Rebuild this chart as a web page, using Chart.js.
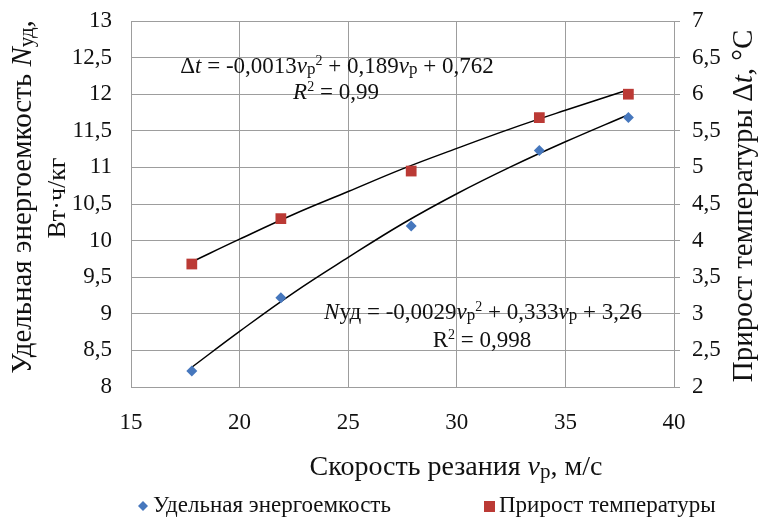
<!DOCTYPE html>
<html>
<head>
<meta charset="utf-8">
<script src="https://cdn.jsdelivr.net/npm/chart.js@4"></script>
<style>
  html, body { margin: 0; padding: 0; background: #fff; }
  canvas { display: block; }
</style>
</head>
<body>
<canvas id="chart" width="764" height="517"></canvas>
<script>
const SPEED = [17.8, 21.9, 27.9, 33.8, 37.9]
const ENERGY = [8.22, 9.22, 10.2, 11.23, 11.68]
const TEMP_RISE = [3.68, 4.3, 4.95, 5.68, 6.0]
// trend curves as they appear on the picture
const TREND_X = [17.8, 20, 22.5, 25, 27.5, 30, 32.5, 35, 37.9]
const ENERGY_TREND = [8.27, 8.76, 9.29, 9.77, 10.23, 10.64, 11.01, 11.35, 11.72]
const TEMP_TREND = [3.71, 4.02, 4.36, 4.67, 4.98, 5.26, 5.53, 5.78, 6.06]
const X_TICKS = [15, 20, 25, 30, 35, 40]

const FONT = '"Liberation Serif", "Times New Roman", serif'
const TEXT = '#111'
const GRID = '#9d9d9d'
const BLUE = '#4677bd'
const RED = '#bb3a35'

function pairs(xs, ys) {
  return xs.map((x, i) => ({ x, y: ys[i] }))
}

function comma(value) {
  return String(value).replace('.', ',')
}

// draw a line made of runs with different styles, centred on cx
function drawRuns(ctx, runs, cx, cy) {
  const parts = runs.map((r) => {
    const size = r.size || 23
    const font = `${r.italic ? 'italic ' : ''}${size}px ${FONT}`
    ctx.font = font
    return { ...r, font, w: ctx.measureText(r.t).width }
  })
  const total = parts.reduce((s, p) => s + p.w, 0)
  let x = cx - total / 2
  ctx.textBaseline = 'middle'
  ctx.textAlign = 'left'
  parts.forEach((p) => {
    ctx.font = p.font
    ctx.fillText(p.t, x, cy + (p.dy || 0))
    x += p.w
  })
}

const SUP = { t: '2', size: 14, dy: -6 }
const SUB = { t: 'р', size: 17, dy: 3 }

const textPlugin = {
  id: 'texts',
  afterDraw(chart) {
    const ctx = chart.ctx
    ctx.save()
    ctx.fillStyle = TEXT

    // equations
    drawRuns(ctx, [
      { t: 'Δ' }, { t: 't', italic: true }, { t: ' = -0,0013' },
      { t: 'v', italic: true }, SUB, SUP,
      { t: ' + 0,189' }, { t: 'v', italic: true }, SUB,
      { t: ' + 0,762' },
    ], 337, 67)
    drawRuns(ctx, [{ t: 'R', italic: true }, SUP, { t: ' = 0,99' }], 336, 93)
    drawRuns(ctx, [
      { t: 'N', italic: true }, { t: 'уд' }, { t: ' = -0,0029' },
      { t: 'v', italic: true }, SUB, SUP,
      { t: ' + 0,333' }, { t: 'v', italic: true }, SUB,
      { t: ' + 3,26' },
    ], 483, 313)
    drawRuns(ctx, [{ t: 'R' }, SUP, { t: ' = 0,998' }], 482, 341)

    // x title
    drawRuns(ctx, [
      { t: 'Скорость резания ', size: 28 }, { t: 'v', italic: true, size: 28 },
      { t: 'р', size: 21, dy: 4 }, { t: ', м/с', size: 28 },
    ], 456, 468)

    // left title, rotated
    ctx.save()
    ctx.translate(23, 197)
    ctx.rotate(-Math.PI / 2)
    drawRuns(ctx, [
      { t: 'Удельная энергоемкость ', size: 29 }, { t: 'N', italic: true, size: 29 },
      { t: 'уд', size: 21, dy: 4 }, { t: ',', size: 29 },
    ], 0, 0)
    ctx.restore()
    ctx.save()
    ctx.translate(58, 198)
    ctx.rotate(-Math.PI / 2)
    drawRuns(ctx, [{ t: 'Вт·ч/кг', size: 26 }], 0, 0)
    ctx.restore()

    // right title
    ctx.save()
    ctx.translate(744, 206)
    ctx.rotate(-Math.PI / 2)
    drawRuns(ctx, [
      { t: 'Прирост температуры Δ', size: 29 }, { t: 't', italic: true, size: 29 },
      { t: ', °C', size: 29 },
    ], 0, 0)
    ctx.restore()

    // legend
    ctx.fillStyle = BLUE
    ctx.beginPath()
    ctx.moveTo(143, 501)
    ctx.lineTo(148, 506)
    ctx.lineTo(143, 511)
    ctx.lineTo(138, 506)
    ctx.closePath()
    ctx.fill()
    ctx.fillStyle = RED
    ctx.fillRect(484, 501, 11, 11)
    ctx.fillStyle = TEXT
    ctx.font = `23px ${FONT}`
    ctx.textAlign = 'left'
    ctx.textBaseline = 'middle'
    ctx.fillText('Удельная энергоемкость', 153, 506)
    ctx.fillText('Прирост температуры', 499, 506)
    ctx.restore()
  },
}

function fixWidth(width) {
  return (s) => {
    s.width = width
    s.paddingTop = 0
    s.paddingBottom = 0
  }
}

function initializeChart() {
  const canvas = document.getElementById('chart')
  if (!canvas || typeof Chart === 'undefined') {
    return null
  }

  const tickFont = { family: FONT, size: 23 }

  return new Chart(canvas, {
    type: 'scatter',
    data: {
      datasets: [
        {
          label: 'Удельная энергоемкость',
          data: pairs(SPEED, ENERGY),
          yAxisID: 'y',
          pointStyle: 'rectRot',
          pointRadius: 5.5,
          backgroundColor: BLUE,
          borderColor: BLUE,
          borderWidth: 0,
          order: 0,
        },
        {
          label: 'Прирост температуры',
          data: pairs(SPEED, TEMP_RISE),
          yAxisID: 'y2',
          pointStyle: 'rect',
          pointRadius: 7.6,
          backgroundColor: RED,
          borderColor: RED,
          borderWidth: 0,
          order: 0,
        },
        {
          label: 'trend energy',
          data: pairs(TREND_X, ENERGY_TREND),
          yAxisID: 'y',
          showLine: true,
          pointRadius: 0,
          borderColor: '#000',
          borderWidth: 1.5,
          tension: 0.4,
          order: 1,
        },
        {
          label: 'trend temp',
          data: pairs(TREND_X, TEMP_TREND),
          yAxisID: 'y2',
          showLine: true,
          pointRadius: 0,
          borderColor: '#000',
          borderWidth: 1.5,
          tension: 0.4,
          order: 1,
        },
      ],
    },
    options: {
      responsive: false,
      animation: false,
      layout: { autoPadding: false, padding: { top: 21, left: 0, right: 0, bottom: 0 } },
      plugins: {
        legend: { display: false },
        tooltip: { enabled: false },
      },
      scales: {
        x: {
          type: 'linear',
          min: 15,
          max: 40,
          afterFit: (s) => { s.height = 130 },
          afterBuildTicks: (s) => { s.ticks = X_TICKS.map((v) => ({ value: v })) },
          grid: { color: GRID, drawTicks: false },
          border: { color: GRID },
          ticks: {
            padding: 22,
            color: TEXT,
            font: tickFont,
            callback: comma,
          },
        },
        y: {
          position: 'left',
          min: 8,
          max: 13,
          afterFit: fixWidth(131),
          grid: { color: GRID, drawTicks: false },
          border: { color: GRID },
          ticks: {
            stepSize: 0.5,
            padding: 19,
            color: TEXT,
            font: tickFont,
            callback: comma,
          },
        },
        y2: {
          position: 'right',
          min: 2,
          max: 7,
          afterFit: fixWidth(90),
          grid: { drawOnChartArea: false, color: GRID, tickLength: 6 },
          border: { color: GRID },
          ticks: {
            stepSize: 0.5,
            padding: 12,
            color: TEXT,
            font: tickFont,
            callback: comma,
          },
        },
      },
    },
    plugins: [textPlugin],
  })
}

globalThis.addEventListener('DOMContentLoaded', () => {
  initializeChart()
})
</script>
</body>
</html>
